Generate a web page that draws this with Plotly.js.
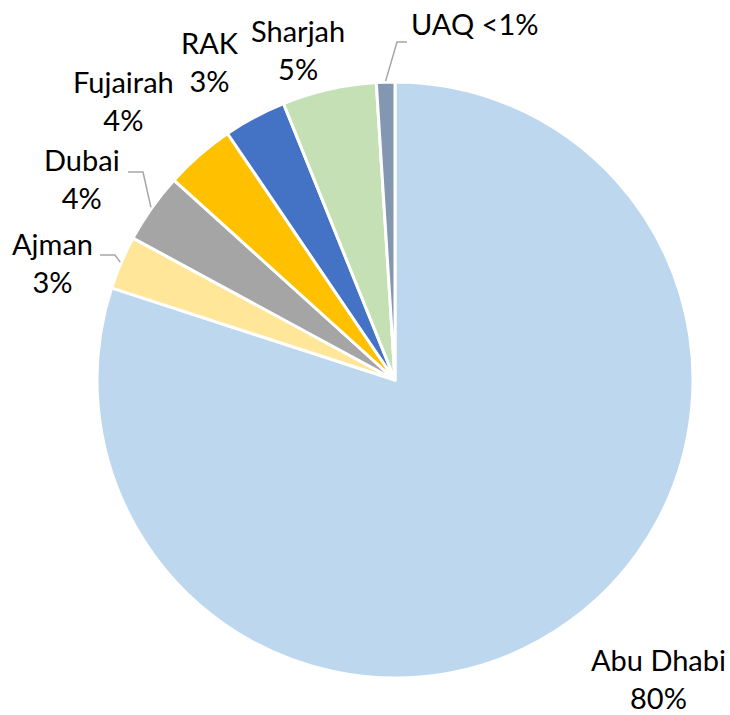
<!DOCTYPE html>
<html>
<head>
<meta charset="utf-8">
<script src="https://cdn.plot.ly/plotly-3.0.1.min.js"></script>
<style>html,body{margin:0;padding:0;background:#fff;}#chart{width:730px;height:715px;}</style>
</head>
<body>
<div id="chart"></div>
<script>
// ---- data ----
const labels = ['Abu Dhabi', 'Ajman', 'Dubai', 'Fujairah', 'RAK', 'Sharjah', 'UAQ'];
const values = [80.0, 2.9, 3.8, 3.8, 3.4, 5.1, 1.0];
const pctText = ['80%', '3%', '4%', '4%', '3%', '5%', '<1%'];
const colors = ['#BDD7EE', '#FFE699', '#A5A5A5', '#FFC000', '#4472C4', '#C5E0B4', '#8497B0'];

// ---- layout / style ----
const W = 730, H = 715;
const cx = 395, cy = 380, R = 298;
const FONT = {family: 'Lato, "Open Sans", sans-serif', size: 29, color: '#000000'};
// label block centres (px) and whether to break line
const labelPos = {
  'Abu Dhabi': {x: 658, y: 678, br: true},
  'Ajman':     {x: 53,  y: 262, br: true},
  'Dubai':     {x: 82,  y: 179, br: true},
  'Fujairah':  {x: 123, y: 100, br: true},
  'RAK':       {x: 210, y: 62,  br: true},
  'Sharjah':   {x: 298, y: 50,  br: true},
  'UAQ':       {x: 474, y: 24,  br: false}
};
// leader lines: elbow and end points (px)
const leaders = {
  'Ajman': {elbow: [115, 255], end: [100, 255]},
  'Dubai': {elbow: [143, 172], end: [128, 172]},
  'UAQ':   {elbow: [397, 42],  end: [407, 42]}
};

const px = x => x / W;
const py = y => 1 - y / H;

const total = values.reduce((a, b) => a + b, 0);
let cum = 0;
const midAngle = {};
values.forEach((v, i) => {
  midAngle[labels[i]] = (cum + v / 2) / total * 2 * Math.PI; // clockwise from 12 o'clock
  cum += v;
});

const annotations = labels.map((lab, i) => {
  const p = labelPos[lab];
  return {
    xref: 'paper', yref: 'paper', x: px(p.x), y: py(p.y),
    xanchor: 'center', yanchor: 'middle', showarrow: false,
    text: p.br ? lab + '<br>' + pctText[i] : lab + ' ' + pctText[i],
    font: FONT, align: 'center'
  };
});

const shapes = Object.keys(leaders).map(lab => {
  const a = midAngle[lab];
  const sx = cx + (R + 1) * Math.sin(a);
  const sy = cy - (R + 1) * Math.cos(a);
  const L = leaders[lab];
  return {
    type: 'path', xref: 'paper', yref: 'paper',
    path: `M ${px(sx)} ${py(sy)} L ${px(L.elbow[0])} ${py(L.elbow[1])} L ${px(L.end[0])} ${py(L.end[1])}`,
    line: {color: '#A6A6A6', width: 1.5}
  };
});

const trace = {
  type: 'pie',
  labels: labels,
  values: values,
  sort: false,
  direction: 'clockwise',
  rotation: 0,
  textinfo: 'none',
  hoverinfo: 'label+percent',
  marker: {colors: colors, line: {color: '#FFFFFF', width: 3}},
  domain: {x: [px(cx - R), px(cx + R)], y: [py(cy + R), py(cy - R)]},
  showlegend: false
};

const layout = {
  width: W, height: H,
  margin: {l: 0, r: 0, t: 0, b: 0},
  paper_bgcolor: '#FFFFFF',
  showlegend: false,
  annotations: annotations,
  shapes: shapes
};

Plotly.newPlot('chart', [trace], layout, {displayModeBar: false, staticPlot: true});
</script>
</body>
</html>
